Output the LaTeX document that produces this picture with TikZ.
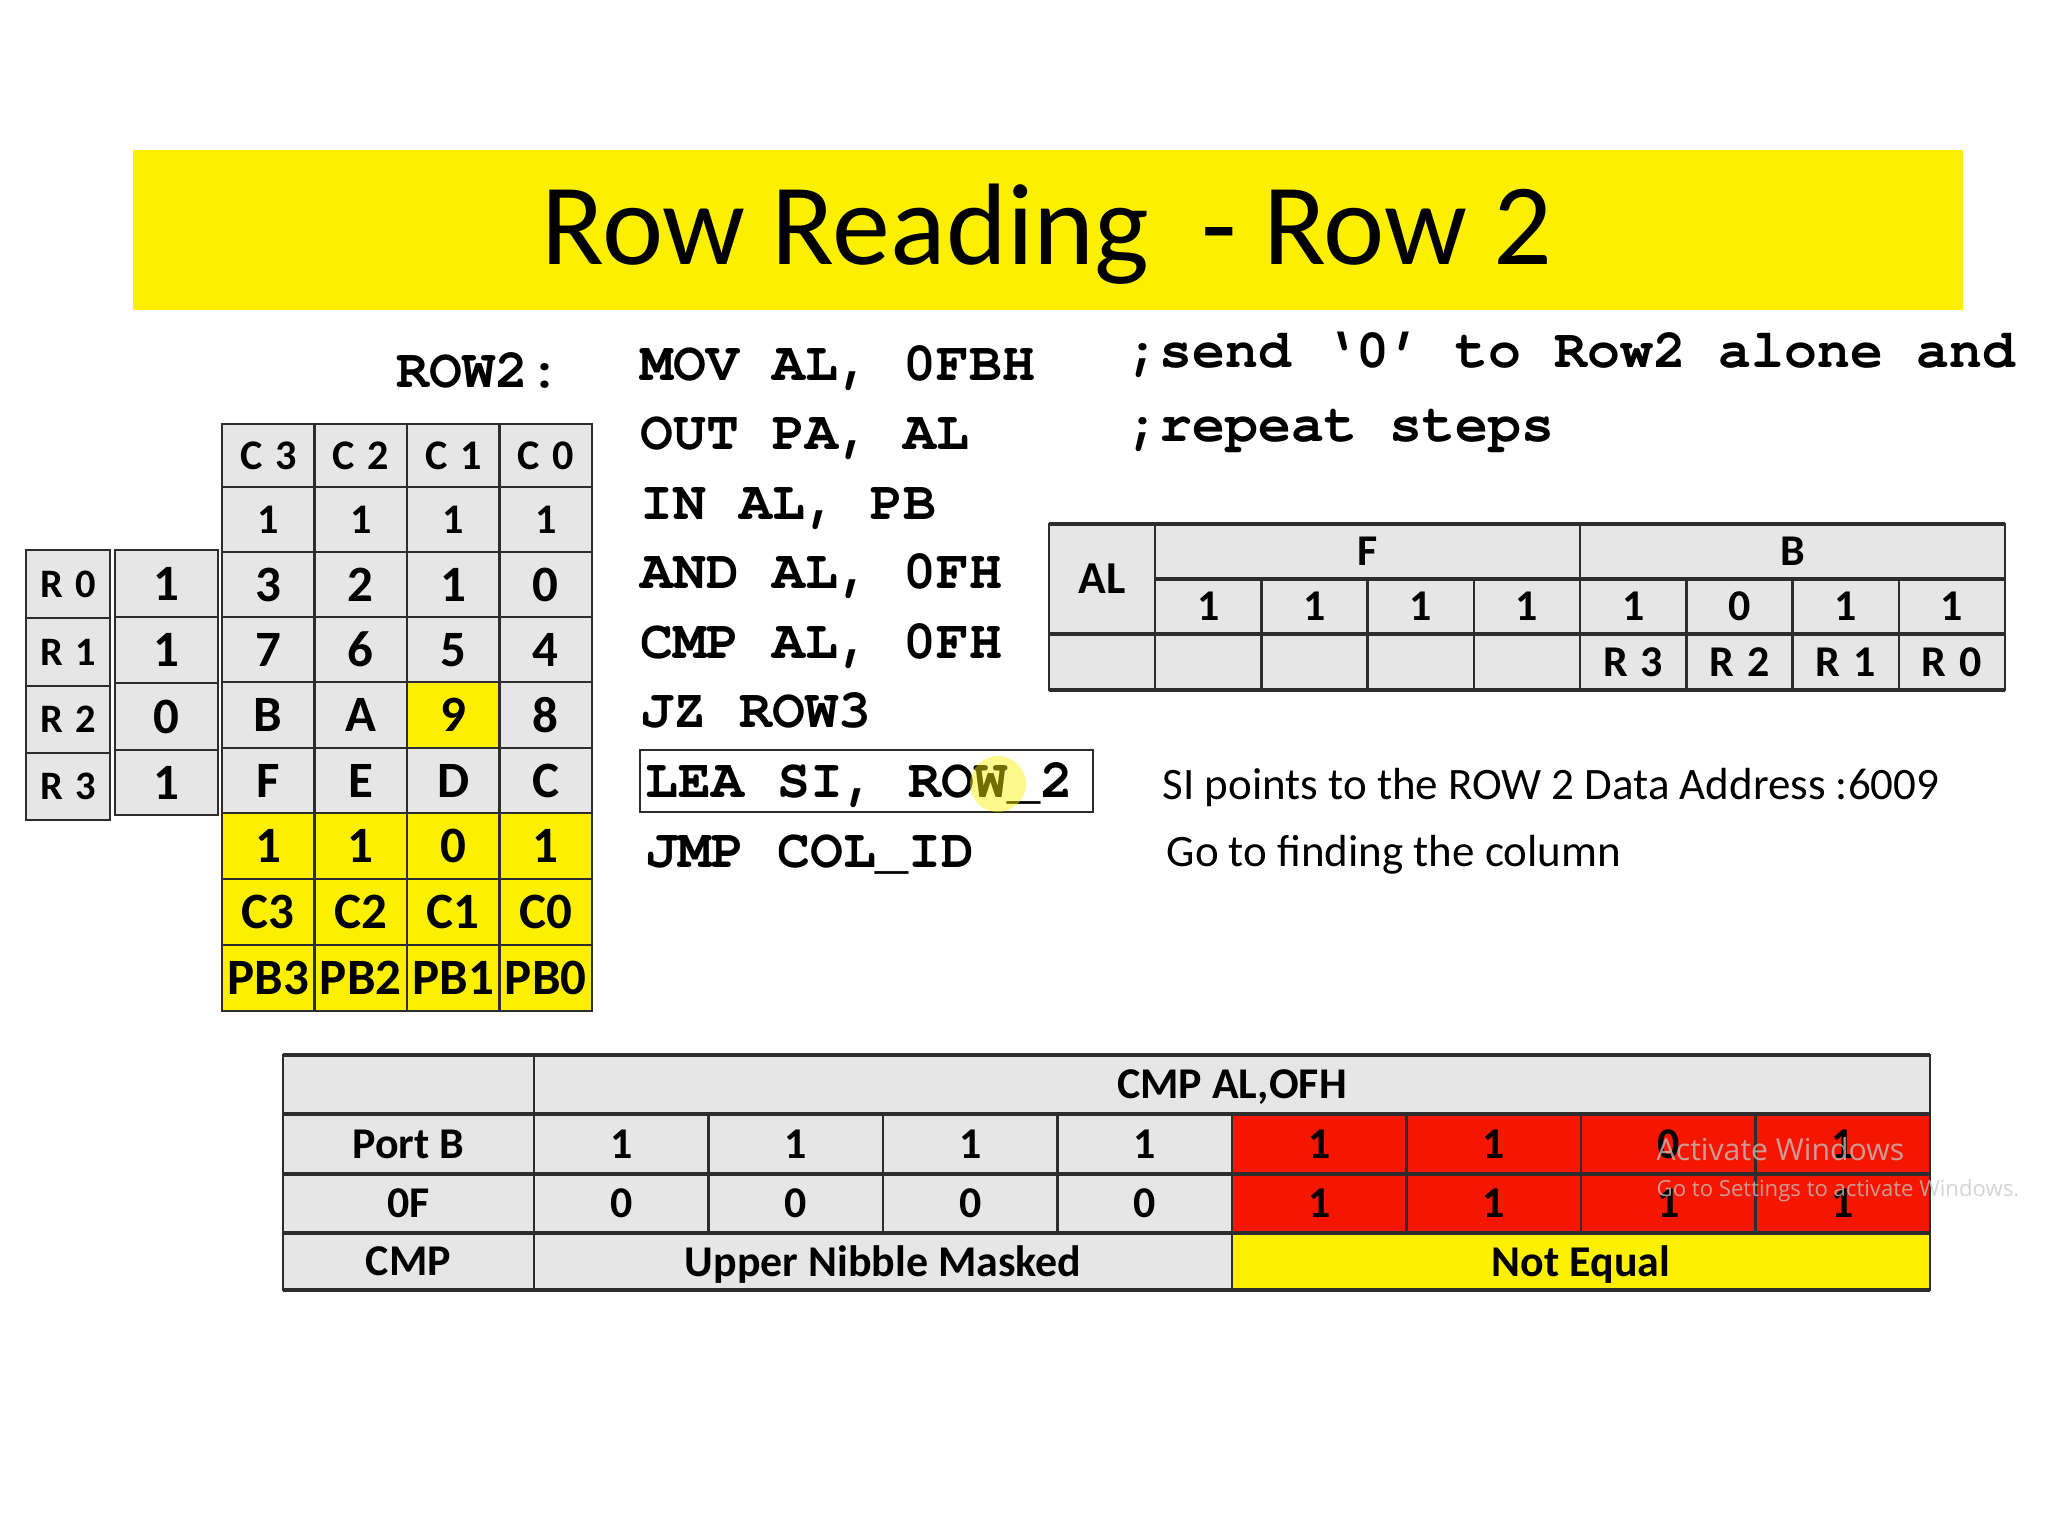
\documentclass[tikz,border=0pt]{standalone}
\usepackage{fontspec}
\setmainfont{Carlito}
\newfontfamily\codefont{texgyrecursor-bold.otf}
\newfontfamily\wmfont{Open Sans}
\definecolor{cg}{RGB}{231,230,230}
\definecolor{yl}{RGB}{252,240,0}
\definecolor{rd}{RGB}{245,22,0}
\definecolor{lc}{RGB}{45,45,45}
\newcommand{\fs}[1]{\fontsize{#1}{#1}\selectfont}
\newcommand{\gp}{\hspace{0.3em}}
\newcommand{\tcell}[8]{%
  \filldraw[fill=#6, draw=lc, line width=0.7pt] ({#2},{#3}) rectangle ({#4},{#5});
  \node[inner sep=0pt, text depth=0pt, font=#7] (#1) at ({(#2)/2+(#4)/2},{(#3)/2+(#5)/2}) {#8};}
\tikzset{
  code/.style={anchor=base west, inner sep=0pt, font=\codefont\fs{15.6}},
  note/.style={anchor=base west, inner sep=0pt, font=\fs{12.8}},
  thick border/.style={draw=lc, line width=1.4pt}
}
\begin{document}
\begin{tikzpicture}[x=0.1mm,y=-0.1mm]
\fill[white] (0,0) rectangle (2048,1536);
\useasboundingbox (0,0) rectangle (2048,1536);

% title band
\fill[yl] (133,150) rectangle (1963,310);
\node[anchor=base, inner sep=0pt, font=\fs{33}] (title) at (1047,264) {Row Reading~~- Row 2};

% code
\node[code] (lbl) at (396,387) {ROW2:};
\node[code] (c1) at (640,380) {MOV AL, 0FBH};
\node[code] (c2) at (640,449) {OUT PA, AL};
\node[code] (c3) at (640,519) {IN AL, PB};
\node[code] (c4) at (640,588) {AND AL, 0FH};
\node[code] (c5) at (640,658) {CMP AL, 0FH};
\node[code] (c6) at (640,727) {JZ ROW3};
\node[code] (c7) at (645,797) {LEA SI, ROW\_2};
\node[code] (c8) at (645,867) {JMP COL\_ID};
\draw[lc, line width=0.6pt] (640,750) rectangle (1093,812);
\node[code] (cm1) at (1126,367) {;send ‘0’ to Row2 alone and};
\node[code] (cm2) at (1126,441) {;repeat steps};

\node[note] (si) at (1162,799) {SI points to the ROW 2 Data Address :6009};
\node[note] (go) at (1166,866) {Go to finding the column};

% left keypad grid
\foreach \t [count=\j from 0] in {C\gp 3,C\gp 2,C\gp 1,C\gp 0}
  {\tcell{h-\j}{222+\j*92.5}{424}{314.5+\j*92.5}{487}{cg}{\bfseries\fs{12}}{\t}}
\foreach \t [count=\j from 0] in {1,1,1,1}
  {\tcell{o-\j}{222+\j*92.5}{487}{314.5+\j*92.5}{552}{cg}{\bfseries\fs{12}}{\t}}
\foreach \t [count=\j from 0] in {3,2,1,0}
  {\tcell{k0-\j}{222+\j*92.5}{552}{314.5+\j*92.5}{617}{cg}{\bfseries\fs{14.5}}{\t}}
\foreach \t [count=\j from 0] in {7,6,5,4}
  {\tcell{k1-\j}{222+\j*92.5}{617}{314.5+\j*92.5}{682}{cg}{\bfseries\fs{14.5}}{\t}}
\foreach \t/\f [count=\j from 0] in {B/cg,A/cg,9/yl,8/cg}
  {\tcell{k2-\j}{222+\j*92.5}{682}{314.5+\j*92.5}{748}{\f}{\bfseries\fs{14.5}}{\t}}
\foreach \t [count=\j from 0] in {F,E,D,C}
  {\tcell{k3-\j}{222+\j*92.5}{748}{314.5+\j*92.5}{813}{cg}{\bfseries\fs{14.5}}{\t}}
\foreach \t [count=\j from 0] in {1,1,0,1}
  {\tcell{y-\j}{222+\j*92.5}{813}{314.5+\j*92.5}{879}{yl}{\bfseries\fs{14.5}}{\t}}
\foreach \t [count=\j from 0] in {C3,C2,C1,C0}
  {\tcell{cc-\j}{222+\j*92.5}{879}{314.5+\j*92.5}{945}{yl}{\bfseries\fs{14.5}}{\t}}
\foreach \t [count=\j from 0] in {PB3,PB2,PB1,PB0}
  {\tcell{pb-\j}{222+\j*92.5}{945}{314.5+\j*92.5}{1011}{yl}{\bfseries\fs{14.5}}{\t}}

% row labels and values
\foreach \t/\ya/\yb [count=\j from 0] in {0/550/618,1/618/686,2/686/753,3/753/820}
  {\tcell{r-\j}{26}{\ya}{110}{\yb}{cg}{\bfseries\fs{11.5}}{R\gp\t}}
\foreach \t/\ya/\yb [count=\j from 0] in {1/550/617,1/617/683,0/683/750,1/750/815}
  {\tcell{v-\j}{115}{\ya}{218}{\yb}{cg}{\bfseries\fs{14.5}}{\t}}

% AL table
\tcell{al}{1049}{524}{1155}{634}{cg}{\bfseries\fs{13}}{AL}
\tcell{alF}{1155}{524}{1580}{579}{cg}{\bfseries\fs{12.5}}{F}
\tcell{alB}{1580}{524}{2005}{579}{cg}{\bfseries\fs{12.5}}{B}
\foreach \t [count=\j from 0] in {1,1,1,1,1,0,1,1}
  {\tcell{ab-\j}{1155+\j*106.25}{579}{1261.25+\j*106.25}{634}{cg}{\bfseries\fs{12.5}}{\t}}
\tcell{alx}{1049}{634}{1155}{690}{cg}{}{}
\foreach \t [count=\j from 0] in {{},{},{},{},R\gp 3,R\gp 2,R\gp 1,R\gp 0}
  {\tcell{ar-\j}{1155+\j*106.25}{634}{1261.25+\j*106.25}{690}{cg}{\bfseries\fs{12.5}}{\t}}
\draw[thick border] (1049,524) -- (2005,524);
\draw[thick border] (1155,579) -- (2005,579);
\draw[thick border] (1049,634) -- (2005,634);
\draw[thick border] (1049,690) -- (2005,690);

% bottom comparison table
\tcell{bh0}{283}{1055}{534}{1114}{cg}{}{}
\tcell{bh1}{534}{1055}{1930}{1114}{cg}{\bfseries\fs{12.5}}{CMP AL,OFH}
\tcell{bpl}{283}{1114}{534}{1174}{cg}{\bfseries\fs{12.5}}{Port B}
\foreach \t/\f [count=\j from 0] in {1/cg,1/cg,1/cg,1/cg,1/rd,1/rd,0/rd,1/rd}
  {\tcell{bp-\j}{534+\j*174.5}{1114}{708.5+\j*174.5}{1174}{\f}{\bfseries\fs{12.5}}{\t}}
\tcell{bol}{283}{1174}{534}{1233}{cg}{\bfseries\fs{12.5}}{0F}
\foreach \t/\f [count=\j from 0] in {0/cg,0/cg,0/cg,0/cg,1/rd,1/rd,1/rd,1/rd}
  {\tcell{bo-\j}{534+\j*174.5}{1174}{708.5+\j*174.5}{1233}{\f}{\bfseries\fs{12.5}}{\t}}
\tcell{bcl}{283}{1233}{534}{1290}{cg}{\bfseries\fs{12.5}}{CMP}
\tcell{bc1}{534}{1233}{1232}{1290}{cg}{\bfseries\fs{12.5}}{Upper Nibble Masked}
\tcell{bc2}{1232}{1233}{1930}{1290}{yl}{\bfseries\fs{12.5}}{Not Equal}
\draw[thick border] (283,1055) -- (1930,1055);
\draw[thick border] (283,1114) -- (1930,1114);
\draw[thick border] (283,1174) -- (1930,1174);
\draw[thick border] (283,1233) -- (1930,1233);
\draw[thick border] (283,1290) -- (1930,1290);

% screen overlays
\fill[yellow, opacity=0.45] (998,784) circle (28);
\node[anchor=base west, inner sep=0pt, font=\wmfont\fs{8.6}, text=gray!45, opacity=0.75] (wm1) at (1656,1160) {Activate Windows};
\node[anchor=base west, inner sep=0pt, font=\wmfont\fs{6.3}, text=gray!45, opacity=0.75] (wm2) at (1656,1196) {Go to Settings to activate Windows.};
\end{tikzpicture}
\end{document}
